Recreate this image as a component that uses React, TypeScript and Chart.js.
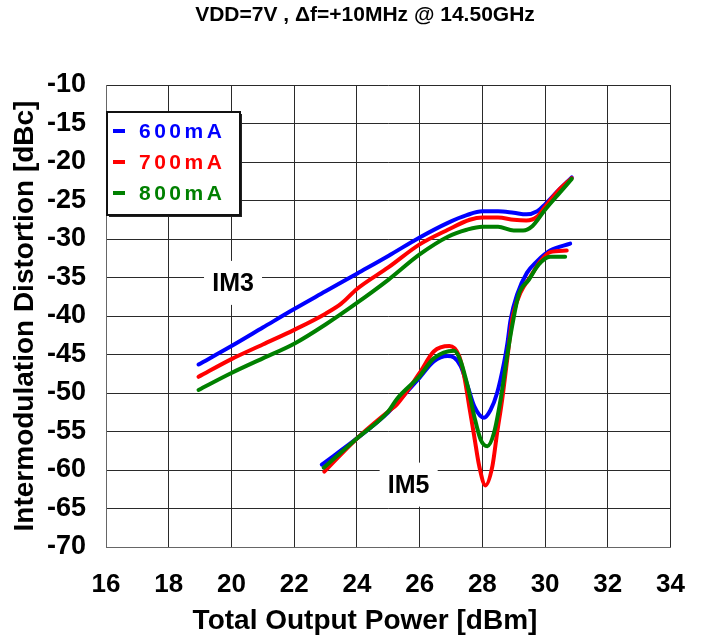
import React, { useEffect, useRef } from 'react';
import { Chart, registerables } from 'chart.js';

Chart.register(...registerables);

const TITLE = 'VDD=7V , Δf=+10MHz @ 14.50GHz';
const X_TITLE = 'Total Output Power [dBm]';
const Y_TITLE = 'Intermodulation Distortion [dBc]';

const X_TICKS = [16, 18, 20, 22, 24, 26, 28, 30, 32, 34];
const Y_TICKS = [-10, -15, -20, -25, -30, -35, -40, -45, -50, -55, -60, -65, -70];

const SERIES_LABELS = ['600mA', '700mA', '800mA'];
const SERIES_COLORS = ['#0000ff', '#ff0000', '#008000'];

// IM3 curves
const IM3_600_X = [18.95, 20, 21, 22, 23, 24, 25, 26, 26.9, 27.5, 28, 28.5, 29, 29.4, 29.75, 30, 30.4, 30.85];
const IM3_600_Y = [-46.3, -43.9, -41.5, -39.1, -36.8, -34.5, -32.2, -29.8, -27.9, -26.9, -26.4, -26.4, -26.6, -26.8, -26.4, -25.5, -23.8, -22.0];
const IM3_700_X = [18.95, 20, 21, 22, 23, 23.5, 24, 25, 26, 26.9, 27.6, 28, 28.5, 29, 29.4, 29.75, 30, 30.4, 30.85];
const IM3_700_Y = [-47.9, -45.6, -43.7, -41.8, -39.7, -38.4, -36.5, -33.7, -30.7, -28.8, -27.5, -27.2, -27.2, -27.5, -27.6, -27.1, -25.8, -23.8, -22.1];
const IM3_800_X = [18.95, 20, 21, 22, 23, 24, 25, 26, 26.9, 27.5, 28, 28.5, 29, 29.3, 29.6, 30, 30.4, 30.85];
const IM3_800_Y = [-49.6, -47.4, -45.5, -43.6, -41.1, -38.3, -35.3, -32.0, -29.7, -28.8, -28.4, -28.4, -28.9, -28.9, -28.3, -26.2, -24.3, -22.2];

// IM5 curves
const IM5_600_X = [22.88, 24, 25, 25.27, 26, 26.45, 26.89, 27.1, 27.31, 27.53, 27.74, 28.05, 28.26, 28.47, 28.69, 28.8, 28.9, 29.11, 29.42, 29.74, 30.16, 30.8];
const IM5_600_Y = [-59.3, -55.9, -52.5, -51.3, -48.0, -45.9, -45.2, -45.4, -46.5, -49.1, -51.7, -53.2, -52.2, -50.0, -46.1, -43.5, -40.5, -37.2, -34.4, -32.9, -31.5, -30.6];
const IM5_700_X = [22.96, 24, 25, 25.27, 26, 26.45, 26.95, 27.26, 27.42, 27.58, 27.74, 27.9, 28.1, 28.32, 28.47, 28.63, 28.79, 28.95, 29.0, 29.21, 29.53, 29.85, 30.16, 30.69];
const IM5_700_Y = [-60.2, -55.9, -52.4, -51.5, -47.4, -44.6, -43.9, -45.2, -47.8, -51.7, -55.6, -59.5, -62.0, -59.5, -55.2, -50.9, -45.7, -40.5, -39.5, -37.0, -34.9, -32.9, -31.7, -31.5];
const IM5_800_X = [22.94, 24, 25, 25.27, 26, 26.45, 27.1, 27.31, 27.53, 27.74, 27.95, 28.16, 28.37, 28.58, 28.79, 28.95, 29.16, 29.48, 29.8, 30.16, 30.64];
const IM5_800_Y = [-59.7, -55.9, -52.4, -50.8, -47.8, -45.5, -44.5, -45.9, -49.1, -53.0, -56.1, -56.9, -55.2, -50.9, -45.2, -41.3, -37.2, -35.3, -33.3, -32.3, -32.3];

const ANNOTATIONS = [
  { text: 'IM3', x: 20.05, y: -35.7 },
  { text: 'IM5', x: 25.65, y: -61.9 },
];

const FONT = "'Liberation Sans', Arial, Helvetica, sans-serif";

const pts = (xs: number[], ys: number[]) => xs.map((x, i) => ({ x, y: ys[i] }));

const overlayPlugin = {
  id: 'overlay',
  afterDraw(chart: any) {
    const ctx = chart.ctx as CanvasRenderingContext2D;
    const area = chart.chartArea;
    const xs = chart.scales.x;
    const ys = chart.scales.y;
    ctx.save();
    ctx.fillStyle = '#000';
    ctx.textAlign = 'center';
    ctx.textBaseline = 'middle';
    ctx.font = `bold 21px ${FONT}`;
    ctx.fillText(TITLE, 365, 15);
    ctx.font = `bold 28px ${FONT}`;
    ctx.fillText(X_TITLE, 365, 621);
    ctx.save();
    ctx.translate(25, (area.top + area.bottom) / 2);
    ctx.rotate(-Math.PI / 2);
    ctx.fillText(Y_TITLE, 0, 0);
    ctx.restore();

    // annotations with white backgrounds
    ctx.font = `bold 25px ${FONT}`;
    for (const a of ANNOTATIONS) {
      const px = xs.getPixelForValue(a.x);
      const py = ys.getPixelForValue(a.y);
      ctx.fillStyle = '#fff';
      ctx.fillRect(px - 29, py - 22, 58, 44);
      ctx.fillStyle = '#000';
      ctx.fillText(a.text, px, py + 1);
    }

    // legend box
    const lx = area.left + 1;
    const ly = area.top + 27;
    const lw = 133;
    const lh = 103;
    ctx.fillStyle = '#222';
    ctx.fillRect(lx + 2, ly + 2, lw, lh);
    ctx.fillStyle = '#fff';
    ctx.fillRect(lx, ly, lw, lh);
    ctx.strokeStyle = '#111';
    ctx.lineWidth = 2;
    ctx.strokeRect(lx, ly, lw, lh);
    ctx.font = `bold 21px ${FONT}`;
    ctx.textAlign = 'left';
    (ctx as any).letterSpacing = '3.5px';
    SERIES_LABELS.forEach((lab, i) => {
      const cy = ly + 19 + i * 31;
      ctx.fillStyle = SERIES_COLORS[i];
      ctx.fillRect(lx + 6, cy - 2, 12, 4);
      ctx.fillText(lab, lx + 32, cy + 1);
    });
    (ctx as any).letterSpacing = '0px';
    ctx.restore();
  },
};

export default function App() {
  const ref = useRef<HTMLCanvasElement>(null);
  useEffect(() => {
    if (!ref.current) return;
    const groups = [
      [IM3_600_X, IM3_600_Y, IM5_600_X, IM5_600_Y],
      [IM3_700_X, IM3_700_Y, IM5_700_X, IM5_700_Y],
      [IM3_800_X, IM3_800_Y, IM5_800_X, IM5_800_Y],
    ];
    const datasets: any[] = [];
    groups.forEach((g, i) => {
      ['IM3', 'IM5'].forEach((kind, k) => {
        datasets.push({
          label: `${kind} ${SERIES_LABELS[i]}`,
          data: pts(g[k * 2], g[k * 2 + 1]),
          borderColor: SERIES_COLORS[i],
          backgroundColor: SERIES_COLORS[i],
          borderWidth: 4,
          pointRadius: 0,
          fill: false,
          cubicInterpolationMode: 'monotone',
          borderCapStyle: 'round',
          borderJoinStyle: 'round',
          order: 2 - i,
        });
      });
    });
    const chart = new Chart(ref.current, {
      type: 'line',
      data: { datasets },
      plugins: [overlayPlugin],
      options: {
        animation: false,
        responsive: false,
        devicePixelRatio: 1,
        layout: { padding: { left: 0, top: 85, right: 32, bottom: 0 } },
        plugins: { legend: { display: false }, tooltip: { enabled: false }, title: { display: false } },
        scales: {
          x: {
            type: 'linear',
            min: 16,
            max: 34,
            afterFit: (s: any) => { s.height = 89; },
            afterBuildTicks: (s: any) => { s.ticks = X_TICKS.map((v) => ({ value: v })); },
            ticks: { color: '#000', font: { family: FONT, size: 26, weight: 'bold' }, padding: 22, maxRotation: 0, autoSkip: false },
            grid: { color: '#2a2a2a', lineWidth: 1, drawTicks: false },
            border: { color: '#666', width: 1 },
          },
          y: {
            type: 'linear',
            min: -70,
            max: -10,
            afterFit: (s: any) => { s.width = 106; },
            afterBuildTicks: (s: any) => { s.ticks = Y_TICKS.map((v) => ({ value: v })); },
            ticks: { color: '#000', font: { family: FONT, size: 27, weight: 'bold' }, padding: 20, autoSkip: false },
            grid: { color: '#2a2a2a', lineWidth: 1, drawTicks: false },
            border: { color: '#666', width: 1 },
          },
        },
      },
    });
    return () => chart.destroy();
  }, []);
  return (
    <div style={{ position: 'absolute', left: 0, top: 0, width: 707, height: 636, background: '#fff' }}>
      <canvas ref={ref} width={707} height={636} style={{ display: 'block', width: 707, height: 636 }} />
    </div>
  );
}
